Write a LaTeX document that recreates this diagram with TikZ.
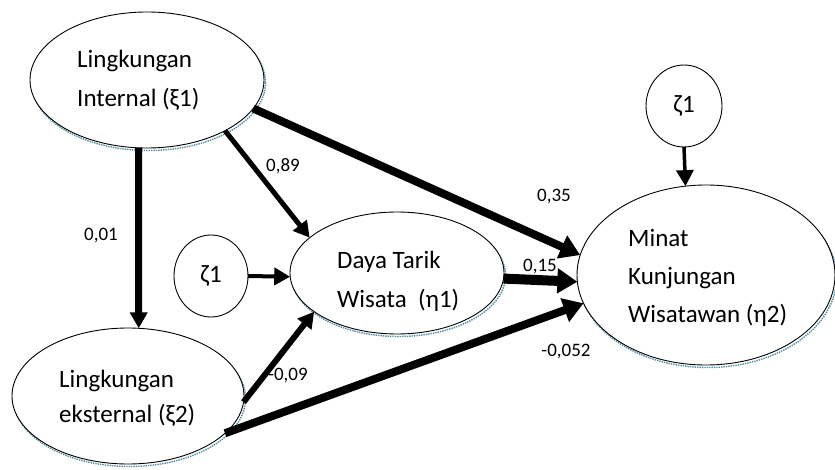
\documentclass[tikz,border=0pt]{standalone}
\usepackage{fontspec}
\setmainfont{Carlito}
\usetikzlibrary{shapes.geometric,arrows.meta}
\definecolor{rimblue}{RGB}{80,140,160}
\begin{document}
\begin{tikzpicture}[x=1pt,y=-1pt,
  blob/.style={ellipse, draw, line width=0.9pt, fill=white, inner sep=0pt, outer sep=0pt,
               font=\fontsize{25}{30}\selectfont},
  rim/.style={draw=rimblue, line width=1.4pt, densely dotted},
  txt/.style={anchor=base west, inner sep=0pt, font=\fontsize{25}{30}\selectfont},
  coef/.style={inner sep=0pt, font=\fontsize{19}{22}\selectfont},
  link/.style={draw, -{Triangle[length=16pt,width=17pt]}},
  biglink/.style={draw, -{Triangle[length=20pt,width=24pt]}},
]
\useasboundingbox[fill=white] (0,0) rectangle (835,470);

% soft bluish rims under the large ellipses
\path[rim] (148.5,82.5) ellipse [x radius=117, y radius=68];
\path[rim] (129.5,398.5) ellipse [x radius=116, y radius=68];
\path[rim] (398.5,275.5) ellipse [x radius=107, y radius=61];
\path[rim] (707.5,277.5) ellipse [x radius=129, y radius=90];

% latent variables
\node[blob, minimum width=234pt, minimum height=136pt] (int) at (147,80) {};
\node[blob, minimum width=232pt, minimum height=136pt] (eks) at (128,396) {};
\node[blob, minimum width=214pt, minimum height=122pt] (daya) at (397,273) {};
\node[blob, minimum width=258pt, minimum height=180pt] (minat) at (706,275) {};
\node[blob, minimum width=74pt, minimum height=82pt] (zl) at (211,276) {ζ1};
\node[blob, minimum width=76pt, minimum height=82pt] (zt) at (684,106) {ζ1};

% variable names
\node[txt] (int1) at (77,68) {Lingkungan};
\node[txt] (int2) at (77,107) {Internal (ξ1)};
\node[txt] (eks1) at (59,387) {Lingkungan};
\node[txt] (eks2) at (59,422) {eksternal (ξ2)};
\node[txt] (daya1) at (337,269) {Daya Tarik};
\node[txt] (daya2) at (337,307) {Wisata\ \ (η1)};
\node[txt] (min1) at (628,247) {Minat};
\node[txt] (min2) at (628,285) {Kunjungan};
\node[txt] (min3) at (628,323) {Wisatawan (η2)};

% paths
\draw[link, line width=7pt] (int.-97.5) -- (eks.81.6);
\draw[link, line width=5pt] (int.-33.2) -- (daya.158);
\draw[biglink, line width=8pt] (int.-15.5) -- (minat.171.3);
\draw[biglink, line width=10pt] (daya.-3.7) -- (minat.-177.4);
\draw[link, line width=4pt] (zl.0) -- (daya.182);
\draw[link, line width=6pt] (eks.-3) -- (daya.205.3);
\draw[biglink, line width=8pt] (eks.-21.3) -- (minat.193.1);
\draw[link, line width=3.5pt] (zt.south) -- (minat.103.3);

% path coefficients
\node[coef] (c1) at (101,236) {0,01};
\node[coef] (c2) at (283,166) {0,89};
\node[coef] (c3) at (554,197) {0,35};
\node[coef] (c4) at (540,267) {0,15};
\node[coef] (c5) at (288,376) {-0,09};
\node[coef] (c6) at (566,352) {-0,052};
\end{tikzpicture}
\end{document}
